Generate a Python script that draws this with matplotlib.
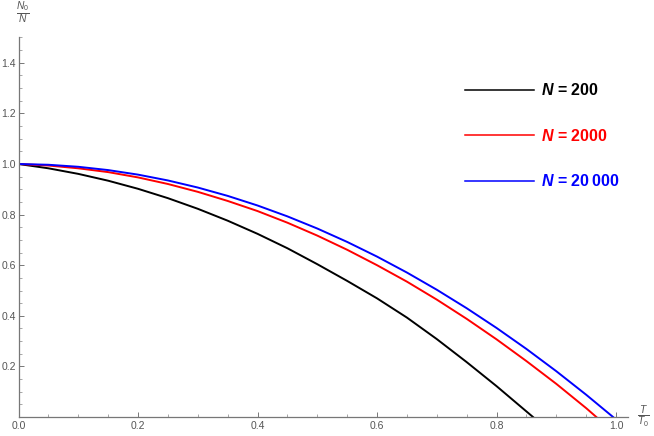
import matplotlib
matplotlib.use("Agg")
import matplotlib.pyplot as plt
from matplotlib.lines import Line2D
from matplotlib.ticker import MultipleLocator

plt.rcParams['font.family'] = ['Liberation Sans', 'DejaVu Sans']
plt.rcParams['mathtext.fontset'] = 'custom'
plt.rcParams['mathtext.it'] = 'Liberation Sans:italic'
plt.rcParams['mathtext.rm'] = 'Liberation Sans'
plt.rcParams['mathtext.bf'] = 'Liberation Sans:bold'
plt.rcParams['mathtext.bfit'] = 'Liberation Sans:italic:bold'

# T/T0 et N0/N
t_black = [0.0, 0.05, 0.10, 0.15, 0.20, 0.25, 0.30, 0.35, 0.40, 0.45, 0.50,
           0.55, 0.60, 0.65, 0.70, 0.75, 0.80, 0.85, 0.861]
n_black = [1.0, 0.983, 0.961, 0.934, 0.902, 0.865, 0.823, 0.776, 0.724, 0.667, 0.604,
           0.538, 0.469, 0.393, 0.308, 0.217, 0.122, 0.022, 0.0]

t_red = [0.0, 0.05, 0.10, 0.15, 0.20, 0.25, 0.30, 0.35, 0.40, 0.45, 0.50,
         0.55, 0.60, 0.65, 0.70, 0.75, 0.80, 0.85, 0.90, 0.95, 0.967]
n_red = [1.0, 0.994, 0.983, 0.968, 0.947, 0.921, 0.890, 0.854, 0.814, 0.768, 0.717,
         0.661, 0.600, 0.535, 0.464, 0.388, 0.307, 0.221, 0.131, 0.035, 0.0]

t_blue = [0.0, 0.05, 0.10, 0.15, 0.20, 0.25, 0.30, 0.35, 0.40, 0.45, 0.50,
          0.55, 0.60, 0.65, 0.70, 0.75, 0.80, 0.85, 0.90, 0.95, 0.995]
n_blue = [1.0, 0.997, 0.989, 0.976, 0.958, 0.935, 0.907, 0.874, 0.836, 0.793, 0.745,
          0.692, 0.634, 0.571, 0.503, 0.430, 0.352, 0.269, 0.181, 0.088, 0.0]

labels = [r'$\mathbfit{N}$ = 200', r'$\mathbfit{N}$ = 2000', r'$\mathbfit{N}$ = 20' + '\u2009' + '000']
colors = ['black', '#ff0000', '#0000ff']

fig = plt.figure(figsize=(6.54, 4.36), dpi=100)
ax = fig.add_axes([18.5 / 654, 1 - 417 / 436, (628 - 18.5) / 654, (417 - 37.5) / 436])

ax.plot(t_black, n_black, color=colors[0], lw=1.4)
ax.plot(t_red, n_red, color=colors[1], lw=1.4)
ax.plot(t_blue, n_blue, color=colors[2], lw=1.4)

ax.set_xlim(0, 1.02)
ax.set_ylim(0, 1.5)
for s in ['top', 'right']:
    ax.spines[s].set_visible(False)
for s in ['left', 'bottom']:
    ax.spines[s].set_color('#777777')
    ax.spines[s].set_linewidth(0.9)

ax.set_xticks([0.0, 0.2, 0.4, 0.6, 0.8, 1.0])
ax.set_yticks([0.2, 0.4, 0.6, 0.8, 1.0, 1.2, 1.4])
ax.xaxis.set_minor_locator(MultipleLocator(0.05))
ax.yaxis.set_minor_locator(MultipleLocator(0.05))
ax.tick_params(which='major', direction='in', length=3.5, width=0.7, color='#777777',
               labelsize=7.5, labelcolor='#555555', pad=3)
ax.tick_params(which='minor', direction='in', length=2, width=0.6, color='#999999')
ax.tick_params(axis='y', pad=2)

ax.text(-0.005, 1.545, r'$\frac{N_0}{N}$', transform=ax.transData, fontsize=10.5,
        color='#555555', ha='left', va='bottom', clip_on=False)
ax.text(1.035, 0.0, r'$\frac{T}{T_0}$', transform=ax.transData, fontsize=10.5,
        color='#555555', ha='left', va='center', clip_on=False)

handles = [Line2D([], [], color=c, lw=1.1) for c in colors]
ax.legend(handles, labels, loc='upper left', bbox_to_anchor=(0.733, 0.882), frameon=False,
          prop={'size': 11.5, 'weight': 'bold'}, labelcolor=colors, handlelength=4.3,
          handletextpad=0.45, labelspacing=1.85, borderpad=0, borderaxespad=0)

fig.savefig('out.png', dpi=100)
